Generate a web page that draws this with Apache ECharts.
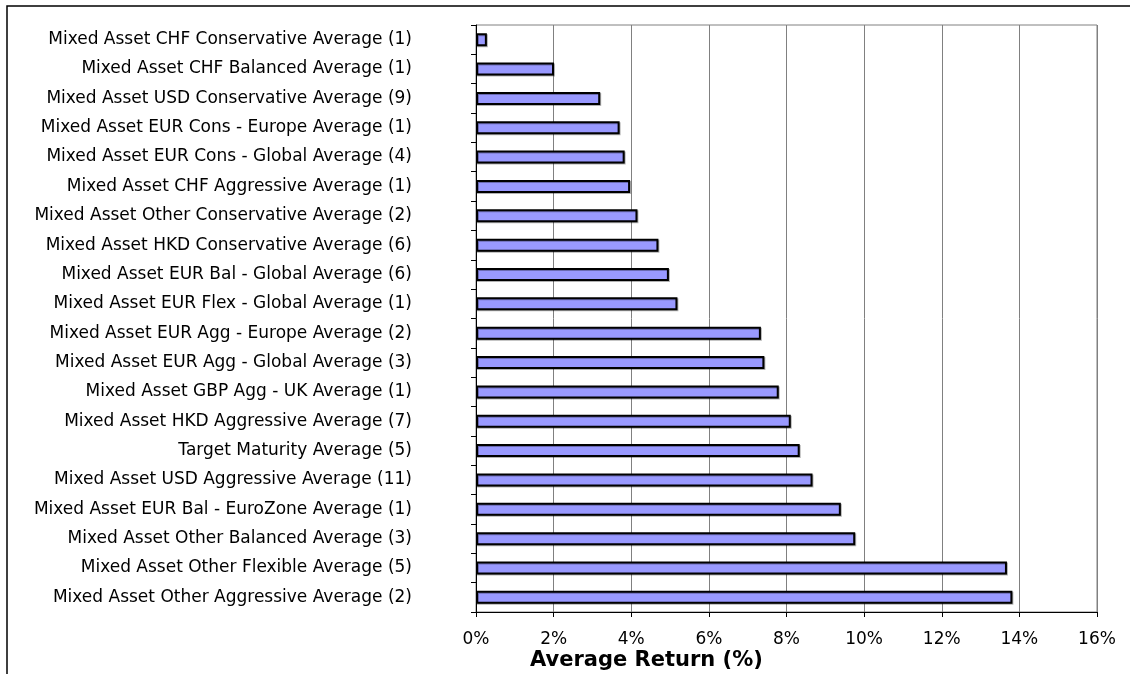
<!DOCTYPE html>
<html>
<head>
<meta charset="utf-8">
<script src="https://cdn.jsdelivr.net/npm/echarts@6/dist/echarts.min.js"></script>
<style>
  html, body { margin: 0; padding: 0; background: #fff; }
  #chart { width: 1130px; height: 674px; }
</style>
</head>
<body>
<div id="chart"></div>
<script>
// Sector names, top to bottom
const categories = [
  'Mixed Asset CHF Conservative Average (1)',
  'Mixed Asset CHF Balanced Average (1)',
  'Mixed Asset USD Conservative Average (9)',
  'Mixed Asset EUR Cons - Europe Average (1)',
  'Mixed Asset EUR Cons - Global Average (4)',
  'Mixed Asset CHF Aggressive Average (1)',
  'Mixed Asset Other Conservative Average (2)',
  'Mixed Asset HKD Conservative Average (6)',
  'Mixed Asset EUR Bal - Global Average (6)',
  'Mixed Asset EUR Flex - Global Average (1)',
  'Mixed Asset EUR Agg - Europe Average (2)',
  'Mixed Asset EUR Agg - Global Average (3)',
  'Mixed Asset GBP Agg - UK Average (1)',
  'Mixed Asset HKD Aggressive Average (7)',
  'Target Maturity Average (5)',
  'Mixed Asset USD Aggressive Average (11)',
  'Mixed Asset EUR Bal - EuroZone Average (1)',
  'Mixed Asset Other Balanced Average (3)',
  'Mixed Asset Other Flexible Average (5)',
  'Mixed Asset Other Aggressive Average (2)'
];

// Average return per sector, in percent
const averageReturn = [
  0.28, 2.01, 3.20, 3.70, 3.83, 3.97, 4.16, 4.70, 4.97, 5.19,
  7.34, 7.43, 7.80, 8.11, 8.34, 8.67, 9.40, 9.77, 13.68, 13.82
];

// Value axis ticks
const axisMin = 0;
const axisMax = 16;
const axisStep = 2;

const axisTitle = 'Average Return (%)';

const labelFont = '"DejaVu Sans", Verdana, sans-serif';

const chart = echarts.init(document.getElementById('chart'), null, { renderer: 'canvas' });

chart.setOption({
  animation: false,
  backgroundColor: '#ffffff',
  grid: {
    left: 476,
    top: 25,
    right: 33,
    bottom: 62,
    show: true,
    borderColor: '#808080',
    borderWidth: 1,
    containLabel: false
  },
  xAxis: {
    type: 'value',
    min: axisMin,
    max: axisMax,
    interval: axisStep,
    axisLine: { show: true, lineStyle: { color: '#000', width: 1 } },
    axisTick: { show: true, length: 5, lineStyle: { color: '#000' } },
    axisLabel: {
      formatter: v => v + '%',
      color: '#000',
      fontFamily: labelFont,
      fontSize: 17,
      margin: 19
    },
    splitLine: { show: true, lineStyle: { color: '#808080', width: 1 } }
  },
  yAxis: {
    type: 'category',
    data: categories,
    inverse: true,
    axisLine: { show: true, lineStyle: { color: '#000', width: 1 } },
    axisTick: { show: true, length: 5, lineStyle: { color: '#000' } },
    axisLabel: {
      color: '#000',
      fontFamily: labelFont,
      fontSize: 17,
      margin: 64
    },
    splitLine: { show: false }
  },
  series: [{
    type: 'bar',
    data: averageReturn,
    barWidth: 13,
    itemStyle: {
      color: '#9999ff',
      borderColor: '#000',
      borderWidth: 2,
      shadowColor: 'rgba(0,0,0,0.3)',
      shadowOffsetX: 1,
      shadowOffsetY: 1,
      shadowBlur: 0
    }
  }],
  graphic: [
    {
      type: 'polyline',
      shape: { points: [[7, 674], [7, 6], [1130, 6]] },
      style: { stroke: '#000', lineWidth: 1.5, fill: null }
    },
    {
      type: 'text',
      x: 530,
      y: 661,
      style: {
        text: axisTitle,
        fill: '#000',
        verticalAlign: 'middle',
        font: 'bold 21px "DejaVu Sans", Verdana, sans-serif'
      }
    }
  ]
});
</script>
</body>
</html>
